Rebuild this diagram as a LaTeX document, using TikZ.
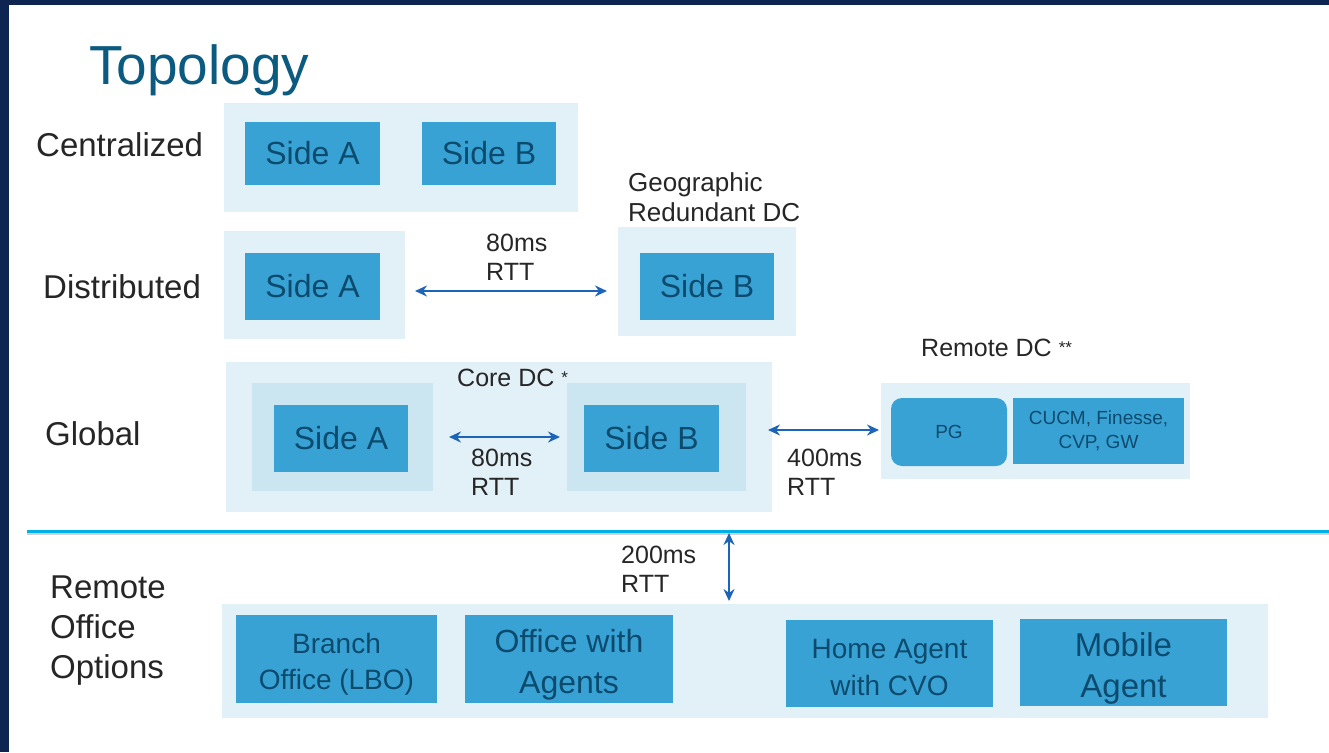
\documentclass[tikz,border=0pt]{standalone}
\usepackage{fontspec}
\setmainfont{Liberation Sans}
\usetikzlibrary{arrows.meta}
\definecolor{navy}{HTML}{0D2550}
\definecolor{lightc}{HTML}{E2F0F8}
\definecolor{innerc}{HTML}{CBE5F1}
\definecolor{boxc}{HTML}{38A2D5}
\definecolor{boxt}{HTML}{0D4B6E}
\definecolor{lblc}{HTML}{262626}
\definecolor{titlec}{HTML}{0B5A80}
\definecolor{arrc}{HTML}{1B64B8}
\definecolor{sepc}{HTML}{00B0E6}
\newcommand{\smallast}[1]{{\fontsize{17}{17}\selectfont\raisebox{3pt}{#1}}}
\tikzset{
  cont/.style={fill=lightc, draw=none, inner sep=0pt},
  inner/.style={fill=innerc, draw=none, inner sep=0pt},
  sbox/.style={fill=boxc, draw=none, text=boxt, inner sep=0pt, align=center, font=\fontsize{32}{36}\selectfont},
  btxt/.style={text=boxt, inner sep=0pt, align=center},
  lbl/.style={text=lblc, inner sep=0pt, anchor=west, align=left, font=\fontsize{33}{40}\selectfont},
  note/.style={text=lblc, inner sep=0pt, anchor=west, align=left, font=\fontsize{25}{29}\selectfont},
  arr/.style={draw=arrc, line width=2pt, {Stealth[length=12pt,width=11pt]}-{Stealth[length=12pt,width=11pt]}},
}
\begin{document}
\begin{tikzpicture}[x=1pt,y=-1pt]
\useasboundingbox (0,0) rectangle (1329,752);
\fill[white] (0,0) rectangle (1329,752);
\fill[navy] (0,0) rectangle (1329,5);
\fill[navy] (0,0) rectangle (9,752);

% title
\node[anchor=west, inner sep=0pt, text=titlec, font=\fontsize{55}{60}\selectfont] (title) at (89,70) {Topology};

% row labels
\node[lbl] (lc) at (36,145) {Centralized};
\node[lbl] (ld) at (43,287) {Distributed};
\node[lbl] (lg) at (45,434) {Global};
\node[lbl] (lr) at (50,631) {Remote\\Office\\Options};

% Centralized
\node[cont, minimum width=354, minimum height=109] (ccont) at (401,157.5) {};
\node[sbox, minimum width=135, minimum height=63] (csa) at (312.5,153.5) {Side A};
\node[sbox, minimum width=134, minimum height=63] (csb) at (489,153.5) {Side B};

% Distributed
\node[cont, minimum width=181, minimum height=108] (dca) at (314.5,285) {};
\node[sbox, minimum width=135, minimum height=67] (dsa) at (312.5,286.5) {Side A};
\node[cont, minimum width=178, minimum height=109] (dcb) at (707,281.5) {};
\node[sbox, minimum width=134, minimum height=67] (dsb) at (707,286.5) {Side B};
\node[note, font=\fontsize{26}{30}\selectfont] (geo) at (628,197) {Geographic\\Redundant DC};
\node[note] (drtt) at (486,257) {80ms\\RTT};
\coordinate (d1) at (415,291);
\coordinate (d2) at (607,291);
\draw[arr] (d1) -- (d2);

% Global
\node[cont, minimum width=546, minimum height=150] (gcont) at (499,437) {};
\node[inner, minimum width=181, minimum height=108] (gia) at (342.5,437) {};
\node[sbox, minimum width=134, minimum height=67] (gsa) at (341,438.5) {Side A};
\node[inner, minimum width=179, minimum height=108] (gib) at (656.5,437) {};
\node[sbox, minimum width=135, minimum height=67] (gsb) at (651.5,438.5) {Side B};
\node[note] (core) at (457,378) {Core DC \smallast{*}};
\node[note] (grtt) at (471,472) {80ms\\RTT};
\coordinate (g1) at (449,437);
\coordinate (g2) at (560,437);
\draw[arr] (g1) -- (g2);

% Remote DC
\node[note] (rdc) at (921,348) {Remote DC \smallast{**}};
\node[cont, minimum width=309, minimum height=96] (rcont) at (1035.5,431) {};
\node[sbox, rounded corners=11pt, minimum width=116, minimum height=68, font=\fontsize{19}{24}\selectfont] (pg) at (949,432) {PG};
\node[sbox, minimum width=171, minimum height=66, font=\fontsize{19}{24}\selectfont] (cucm) at (1098.5,431) {CUCM, Finesse,\\CVP, GW};
\node[note] (rrtt) at (787,472) {400ms\\RTT};
\coordinate (r1) at (768,430);
\coordinate (r2) at (879,430);
\draw[arr] (r1) -- (r2);

% separator
\coordinate (s1) at (27,534);
\coordinate (s2) at (1329,534);
\draw[black!18, line width=2pt] (s1) -- (s2);
\coordinate (s3) at (27,531);
\coordinate (s4) at (1329,531);
\draw[sepc, line width=3pt] (s3) -- (s4);

% vertical arrow
\coordinate (v1) at (729,533);
\coordinate (v2) at (729,601);
\draw[arr] (v1) -- (v2);
\node[note] (vrtt) at (621,569) {200ms\\RTT};

% Remote office options
\node[cont, minimum width=1046, minimum height=114] (ocont) at (745,661) {};
\node[sbox, minimum width=201, minimum height=88] (bo) at (336.5,659) {};
\node[btxt, font=\fontsize{28}{36}\selectfont] (bot) at ([yshift=-5pt]bo.center) {Branch\\Office (LBO)};
\node[sbox, minimum width=208, minimum height=88] (owa) at (569,659) {};
\node[btxt, font=\fontsize{32}{41}\selectfont] (owat) at ([yshift=-6pt]owa.center) {Office with\\Agents};
\node[sbox, minimum width=207, minimum height=87] (ha) at (889.5,663.5) {};
\node[btxt, font=\fontsize{28}{37}\selectfont] (hat) at ([yshift=-4pt]ha.center) {Home Agent\\with CVO};
\node[sbox, minimum width=207, minimum height=87] (ma) at (1123.5,662.5) {};
\node[btxt, font=\fontsize{33}{41}\selectfont] (mat) at ([yshift=-6pt]ma.center) {Mobile\\Agent};
\end{tikzpicture}
\end{document}
